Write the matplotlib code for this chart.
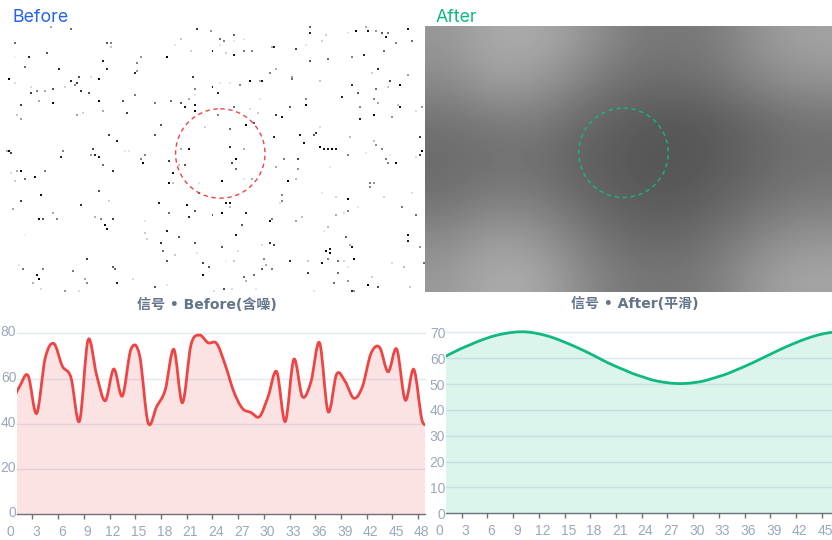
import numpy as np
import matplotlib
matplotlib.use('Agg')
import matplotlib.pyplot as plt
from matplotlib.path import Path
from matplotlib.patches import PathPatch, Circle, Rectangle
from matplotlib.transforms import ScaledTranslation

W, H = 832, 540

# specks of the noisy image: x, y in 1/3 px of the panel, gray level
specks_top = [(155,82,170),(212,89,110),(47,131,110),(322,131,90),(330,128,130),(334,140,200),(590,89,60),(634,95,150),
    (705,103,100),(665,116,110),(677,125,130),(702,125,230),(733,119,230),(540,116,200),(526,134,230),(570,150,210),
    (662,135,230),(638,155,20),(679,160,210),(702,164,20),(736,150,120),(757,153,130),(820,138,170),(825,141,30),
    (890,148,70),(919,137,230),(930,82,100),(934,101,40),(982,103,210),(971,123,210),(1047,101,230),(1071,91,0),
    (1099,82,170),(1106,94,20),(1131,94,150),(1149,99,90),(1166,99,120),(1158,110,30),(1227,89,30),(1189,130,130),
    (1239,125,110),(1155,150,110),(1092,167,40),(1060,172,130),(984,177,110),(934,185,90),(1137,205,50),(1116,221,210),
    (1224,226,160),(1170,240,70),(1203,253,0),(1059,252,50),(963,242,200),(880,229,160),(876,239,110),(831,207,170),
    (815,220,130),(781,241,170),(789,245,30),(750,244,10),(692,250,230),(662,248,230),(720,255,130),(636,258,30),
    (576,231,60),(585,265,130),(655,277,40),(586,285,230),(568,294,170),(543,306,90),(513,300,110),(467,306,120),
    (555,319,20),(582,312,30),(582,333,0),(706,321,110),(781,296,230),(753,329,220),(778,339,200),(654,345,130),
    (828,342,60),(849,353,20),(873,318,90),(918,297,130),(918,313,0),(1029,288,40),(1077,279,90),(1128,268,110),
    (1165,258,200),(1125,299,130),(1139,306,170),(1083,323,130),(1122,346,0),(1083,359,40),(1179,351,150),(1197,315,190),
    (1203,319,20),(1251,333,220),(1267,321,150),(502,171,0),(425,168,150),(409,190,130),(411,214,150),(402,218,40),
    (310,185,30),(321,204,50),(298,234,10),(272,231,220),(177,204,40),(237,228,80),(213,242,40),(228,249,60),
    (225,255,130),(195,261,210),(244,273,50),(264,276,80),(156,267,90),(132,273,170),(108,270,130),(93,258,220),
    (93,277,60),(46,249,220),(27,237,0),(75,198,110),(88,171,40),(141,159,90),(42,170,240),(115,303,170),(60,315,70),
    (156,306,10),(298,300,0),(369,303,90),(406,282,120),(307,330,170),(383,337,70),(247,336,210),(228,342,160),
    (49,345,200),(61,354,160),(483,377,90),(462,402,90),(326,402,70),(350,423,30),(20,450,170),(186,450,120),(276,447,80),
    (387,450,220),(614,378,210),(741,373,0),(762,369,90),(691,387,110),(693,438,50),(735,444,170),(541,444,170),
    (565,449,20),(827,408,40),(903,402,20),(914,429,10),(945,402,90),(951,396,60),(960,380,220),(1053,411,190),
    (1124,425,190),(1130,433,140),(1150,444,130),(1260,413,60),(961,441,0),(972,447,30),(985,449,30),(997,449,0),(1013,448,30)]

# same thing for the lower half, y counted from 150 px down
specks_bottom = [(24,5,10),(33,9,70),(180,21,40),(273,12,150),(282,12,40),(294,18,20),(186,0,130),(374,3,230),(387,0,230),
    (432,12,130),(424,27,130),(426,39,0),(307,42,110),(336,60,50),(507,30,60),(539,45,190),(555,45,90),(517,66,10),
    (709,25,0),(699,36,70),(852,27,130),(897,27,70),(829,51,170),(898,57,150),(712,57,110),(1044,16,130),(1098,9,230),
    (1174,12,230),(1162,27,120),(1167,39,130),(1188,36,10),(1251,18,220),(1260,12,70),(1266,3,0),(990,52,230),(30,69,220),
    (51,61,170),(63,61,0),(105,78,20),(136,63,120),(42,93,200),(76,87,110),(507,97,0),(516,100,190),(597,96,230),(669,93,10),
    (735,85,230),(759,87,170),(864,91,0),(889,84,190),(1110,96,120),(1127,97,150),(1110,108,130),(120,132,10),(294,121,80),
    (60,153,70),(324,151,210),(243,165,50),(477,159,30),(562,165,10),(594,131,60),(681,159,20),(690,156,20),(690,168,190),
    (849,135,130),(849,150,130),(840,156,220),(966,129,230),(1013,138,210),(1044,144,0),(1155,141,210),(1236,129,220),
    (1077,168,230),(40,177,170),(157,190,170),(507,186,110),(586,180,90),(669,187,0),(636,193,90),(741,189,40),(565,198,40),
    (1045,184,130),(1032,190,220),(1011,195,170),(1208,169,120),(1248,192,110),(909,198,190),(282,198,180),(300,207,130),
    (336,207,70),(171,207,130),(117,208,10),(129,207,90),(813,211,10),(819,207,120),(891,214,160),(726,222,90),(315,225,10),
    (318,234,20),(433,213,230),(498,240,30),(987,228,190),(972,245,230),(435,246,200),(441,264,210),(75,252,240),(535,258,90),
    (712,252,30),(483,276,50),(582,276,90),(813,276,50),(827,282,70),(1042,258,100),(1227,252,20),(1224,273,30),(1264,288,150),
    (1053,285,170),(1059,291,20),(990,294,20),(982,300,10),(990,309,10),(789,285,220),(666,291,90),(486,300,110),(588,306,230),
    (714,304,220),(522,315,200),(258,324,60),(1064,324,0),(985,324,130),(871,330,50),(795,328,130),(705,330,200),(682,330,240),
    (927,333,200),(498,334,90),(606,338,70),(1014,334,110),(1033,333,210),(968,339,20),(1176,337,220),(1272,336,110),(55,343,230),
    (66,354,120),(130,354,130),(220,363,120),(340,352,90),(347,357,100),(625,348,90),(798,342,170),(818,354,120),(786,357,90),
    (1047,348,230),(1017,366,110),(1216,348,190),(111,375,20),(117,388,0),(607,372,0),(735,378,110),(762,375,110),(925,370,60),
    (1120,378,210),(252,387,170),(400,388,220),(351,397,30),(99,399,180),(258,399,140),(738,390,180),(1044,393,150),(1002,399,110),
    (502,403,230),(1104,406,0),(463,411,90),(1135,411,80),(1234,408,200),(123,417,220),(195,423,150),(237,425,220),(672,414,80),
    (697,417,220),(768,414,230),(643,423,220),(945,423,230),(1059,423,40),(1062,420,150)]

# smoothed image, gray levels on a coarse grid
smooth_gray = [
    [150, 170, 170, 150, 125, 118, 125, 150, 162],
    [136, 158, 152, 128, 110, 106, 115, 135, 145],
    [115, 122, 125, 105,  92,  86,  92, 106, 116],
    [106, 112, 110,  96,  88,  84,  90, 104, 112],
    [113, 125, 124, 104,  92,  88,  98, 112, 122],
    [136, 155, 148, 122, 105, 102, 114, 134, 146],
    [152, 172, 168, 138, 120, 116, 128, 155, 165],
]

before_y = [49, 56.4, 61.3, 44.6, 69, 75.5, 65.5, 60.5, 41.2, 77, 61.5, 50.2, 64.2, 52.3, 72.9, 70.4, 40.5,
            47.6, 55, 72.9, 49.3, 74.8, 79.2, 75.8, 75.5, 66, 54.2, 46.8, 45, 43.2, 52, 63, 41, 68.5, 52,
            58.6, 75.8, 45.4, 62, 58.6, 51.3, 56.4, 71.1, 73.8, 63, 73, 50.5, 64, 41, 42]
after_y = [60.5, 62.2, 63.8, 65.2, 66.6, 67.8, 68.8, 69.5, 70, 70.2, 70, 69.4, 68.6, 67.5, 66.2, 64.8, 63.3, 61.7,
           60, 58.3, 56.8, 55.4, 54, 52.9, 51.8, 51, 50.5, 50.2, 50.2, 50.5, 51, 51.9, 52.9, 54, 55.4, 56.8,
           58.3, 59.9, 61.5, 63.1, 64.6, 66, 67.3, 68.4, 69.3, 69.9, 70.3]

x_labels = list(range(0, 49, 3))
before_ticks = [0, 20, 40, 60, 80]
after_ticks = [0, 10, 20, 30, 40, 50, 60, 70]

RED = '#ef4444'
GREEN = '#10b981'
AXIS = '#6e7079'
LABEL = '#9aa8bd'
GRID = '#e2e8f0'

plt.rcParams['font.family'] = ['Liberation Sans', 'DejaVu Sans']
fig = plt.figure(figsize=(W / 100, H / 100), dpi=100, facecolor='white')


def panel(x0, y0, x1, y1):
    return fig.add_axes([x0 / W, 1 - y1 / H, (x1 - x0) / W, (y1 - y0) / H])


def smooth_path(x, y):
    # bezier through the points, like the smooth option of the original lines
    pts = np.column_stack([x, y])
    verts = [pts[0]]
    codes = [Path.MOVETO]
    for i in range(len(pts) - 1):
        a = pts[max(i - 1, 0)]
        b = pts[min(i + 2, len(pts) - 1)]
        verts += [pts[i] + (pts[i + 1] - a) / 6, pts[i + 1] - (b - pts[i]) / 6, pts[i + 1]]
        codes += [Path.CURVE4] * 3
    return np.array(verts), codes


def line_chart(ax, x, y, color, xlim, ymax, yticks, ylab_shift):
    ax.set_xlim(*xlim)
    ax.set_ylim(0, ymax)
    ax.set_facecolor('none')
    verts, codes = smooth_path(x, y)
    fill_verts = np.vstack([verts, [x[-1], 0], [x[0], 0], verts[0]])
    fill_codes = codes + [Path.LINETO, Path.LINETO, Path.CLOSEPOLY]
    ax.add_patch(PathPatch(Path(fill_verts, fill_codes), fc=color, ec='none', alpha=0.15, zorder=3))
    curve = PathPatch(Path(verts, codes), fc='none', ec=color, lw=2.0, zorder=4)
    ax.add_patch(curve)
    # leave room for the stroke above the top gridline
    curve.set_clip_path(Rectangle((0, -0.05), 1, 1.1, transform=ax.transAxes))
    for v in yticks[1:]:
        ax.axhline(v, color=GRID, lw=1, zorder=1, clip_on=False)
    for s in ['top', 'left', 'right']:
        ax.spines[s].set_visible(False)
    ax.spines['bottom'].set_color(AXIS)
    ax.spines['bottom'].set_linewidth(1)
    ax.set_yticks(yticks)
    ax.tick_params(axis='y', length=0, pad=0.5, labelcolor=LABEL, labelsize=10)
    ticks = [t for t in x_labels if xlim[0] < t <= xlim[1]]
    ax.set_xticks(ticks)
    ax.set_xticklabels([str(t) for t in ticks])
    ax.tick_params(axis='x', length=3.6, width=1, color=AXIS, pad=4, labelcolor=LABEL, labelsize=10)
    shift_x = ScaledTranslation(3.7 / 100, 0, fig.dpi_scale_trans)
    for lab in ax.get_xticklabels():
        lab.set_transform(lab.get_transform() + shift_x)
    shift_y = ScaledTranslation(0, ylab_shift / 100, fig.dpi_scale_trans)
    for lab in ax.get_yticklabels():
        lab.set_transform(lab.get_transform() + shift_y)
    # the zero label sits left of where the plot starts
    ax.text(0, 0, '0', color=LABEL, fontsize=10, ha='center', va='top', clip_on=False,
            transform=ax.transData + ScaledTranslation(3.7 / 100, -10.5 / 100, fig.dpi_scale_trans))


# Before image
cols, rows = 213, 133
noise = np.full((rows, cols), 255.0)
for zx, zy, v in specks_top:
    noise[min(max(zy - 78, 0) // 6, rows - 1), min(zx // 6, cols - 1)] = v
for zx, zy, v in specks_bottom:
    noise[min((zy + 450 - 78) // 6, rows - 1), min(zx // 6, cols - 1)] = v
ax1 = panel(0, 26, 425, 292)
ax1.imshow(noise, cmap='gray', vmin=0, vmax=255, aspect='auto', interpolation='nearest',
           extent=[0, 425, 292, 26])
ax1.add_patch(Circle((220.3, 153.5), 44.7, fc='none', ec=RED, lw=1, ls=(0, (3.2, 2.6))))
ax1.set_xlim(0, 425)
ax1.set_ylim(292, 26)
ax1.axis('off')

# After image
ax2 = panel(425, 26, 832, 292)
ax2.imshow(np.array(smooth_gray), cmap='gray', vmin=0, vmax=255, aspect='auto', interpolation='bicubic',
           extent=[425, 832, 292, 26])
ax2.add_patch(Circle((623.5, 152.8), 44.7, fc='none', ec=GREEN, lw=1, ls=(0, (3.2, 2.6))))
ax2.set_xlim(425, 832)
ax2.set_ylim(292, 26)
ax2.axis('off')

fig.text(13 / W, 1 - 18 / H, 'Before', color='#2563eb', fontsize=12.8, family=['Inter', 'DejaVu Sans'], va='center')
fig.text(436 / W, 1 - 17 / H, 'After', color=GREEN, fontsize=12.8, family=['Inter', 'DejaVu Sans'], va='center')

title_font = ['DejaVu Sans', 'Noto Sans CJK SC']
fig.text(207 / W, 1 - 305 / H, '信号 • Before(含噪)', color='#64748b', fontsize=10.1, fontweight='bold',
         family=title_font, ha='center', va='center')
fig.text(635 / W, 1 - 304 / H, '信号 • After(平滑)', color='#64748b', fontsize=10.1, fontweight='bold',
         family=title_font, ha='center', va='center')

# signal charts
ax3 = panel(17, 333.3, 425, 514.3)
line_chart(ax3, np.arange(len(before_y)) + 0.5, before_y, RED, (1.21, 48.8), 80, before_ticks, 2.5)
ax4 = panel(446, 332.3, 832, 513.3)
line_chart(ax4, np.arange(len(after_y)) + 1.0, after_y, GREEN, (1.17, 46.2), 70, after_ticks, 0)

fig.savefig('out.png', dpi=100)
